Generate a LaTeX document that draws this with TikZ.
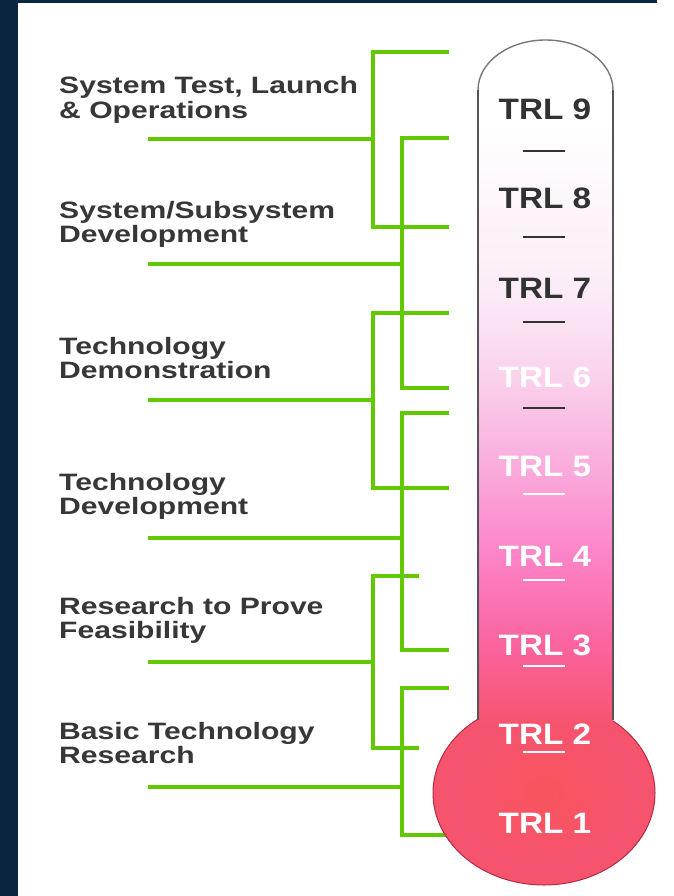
\documentclass[tikz,border=0pt]{standalone}
\usepackage{fontspec}
\setmainfont{Liberation Sans}
\newfontfamily\stagefont[FakeStretch=1.27]{Liberation Sans}
\newfontfamily\levelfont[FakeStretch=1.13]{Liberation Sans}
\usepackage{tikz}
\usetikzlibrary{positioning, shapes.geometric}

\definecolor{bgnavy}{RGB}{9,37,64}
\definecolor{stagegray}{RGB}{55,55,55}
\definecolor{levelgray}{RGB}{50,50,50}
\definecolor{bracketgreen}{RGB}{98,200,0}
\definecolor{tubeline}{RGB}{85,85,85}
\definecolor{domeline}{RGB}{120,120,120}
\definecolor{tubeA}{RGB}{251,236,247}
\definecolor{tubeB}{RGB}{250,210,236}
\definecolor{tubeC}{RGB}{250,172,221}
\definecolor{tubeD}{RGB}{252,132,200}
\definecolor{tubeE}{RGB}{250,100,160}
\definecolor{tubeF}{RGB}{246,84,110}
\definecolor{bulbcore}{RGB}{249,84,92}
\definecolor{bulbedge}{RGB}{246,84,110}
\definecolor{bulbline}{RGB}{180,45,65}

\pgfdeclareverticalshading{tubeshade}{100bp}{color(0bp)=(tubeF); color(25bp)=(tubeF);
  color(30.9bp)=(tubeE); color(37.3bp)=(tubeD); color(43.8bp)=(tubeC);
  color(50.4bp)=(tubeB); color(56.7bp)=(tubeA); color(69bp)=(white); color(100bp)=(white)}
\pgfdeclareradialshading{bulbshade}{\pgfpoint{0bp}{0bp}}{color(0bp)=(bulbcore);
  color(18bp)=(bulbedge); color(50bp)=(bulbedge)}

\begin{document}
\begin{tikzpicture}[x=1pt, y=-1pt,
    stage/.style={anchor=base west, inner sep=0pt, text=stagegray,
      font=\stagefont\bfseries\fontsize{23.7}{24.5}\selectfont},
    trl/.style={inner sep=0pt, text height=21pt, text depth=0pt,
      font=\levelfont\bfseries\fontsize{29.5}{30}\selectfont},
    bracket/.style={draw=bracketgreen, line width=4pt},
    node distance=67.9pt]
        \useasboundingbox (0,0) rectangle (673,896);
        \fill[white] (0,0) rectangle (673,896);
        \fill[bgnavy] (0,0) rectangle (18,896);
        \fill[bgnavy] (18,0) rectangle (657,3.3);

        % brackets: stub on the left, spine, two ends on the right
        \coordinate (stub1) at (148,139); \coordinate (top1) at (449,52);
        \coordinate (bot1) at (449,227); \coordinate (spine1) at (373,0);
        \coordinate (stub2) at (148,264); \coordinate (top2) at (449,138);
        \coordinate (bot2) at (449,388); \coordinate (spine2) at (402,0);
        \coordinate (stub3) at (148,400); \coordinate (top3) at (449,313);
        \coordinate (bot3) at (449,488); \coordinate (spine3) at (373,0);
        \coordinate (stub4) at (148,538); \coordinate (top4) at (449,413);
        \coordinate (bot4) at (449,650); \coordinate (spine4) at (402,0);
        \coordinate (stub5) at (148,662); \coordinate (top5) at (419,576);
        \coordinate (bot5) at (419,748); \coordinate (spine5) at (373,0);
        \coordinate (stub6) at (148,787); \coordinate (top6) at (449,688);
        \coordinate (bot6) at (452,835); \coordinate (spine6) at (402,0);

        \draw[bracket] (top1) -- (top1 -| spine1) -- (bot1 -| spine1) -- (bot1)
          (stub1) -- (stub1 -| spine1);
        \draw[bracket] (top2) -- (top2 -| spine2) -- (bot2 -| spine2) -- (bot2)
          (stub2) -- (stub2 -| spine2);
        \draw[bracket] (top3) -- (top3 -| spine3) -- (bot3 -| spine3) -- (bot3)
          (stub3) -- (stub3 -| spine3);
        \draw[bracket] (top4) -- (top4 -| spine4) -- (bot4 -| spine4) -- (bot4)
          (stub4) -- (stub4 -| spine4);
        \draw[bracket] (top5) -- (top5 -| spine5) -- (bot5 -| spine5) -- (bot5)
          (stub5) -- (stub5 -| spine5);
        \draw[bracket] (top6) -- (top6 -| spine6) -- (bot6 -| spine6) -- (bot6)
          (stub6) -- (stub6 -| spine6);

        % thermometer
        \node[ellipse, draw=bulbline, line width=1pt, shade, shading=bulbshade,
          minimum width=222pt, minimum height=184pt, inner sep=0pt]
        (bulb) at (544,793) {};
        \shade[shading=tubeshade] (478,722) -- (478,90)
          arc[start angle=180, end angle=360, x radius=67.5, y radius=50]
          -- (613,722) -- cycle;
        \draw[tubeline, line width=2pt] (478,90) -- (478,720) (613,90) -- (613,720);
        \draw[domeline, line width=1.4pt] (478,90)
          arc[start angle=180, end angle=360, x radius=67.5, y radius=50];

        \foreach \y/\c in {151/levelgray, 237/levelgray, 322/levelgray,
          408/levelgray, 494/white, 580/white, 666/white, 752/white}
          \draw[\c, line width=2pt] (523,\y) -- (565,\y);

        \node[trl, text=levelgray] (trl9) at (545,109) {TRL 9};
        \node[trl, text=levelgray, below=of trl9] (trl8) {TRL 8};
        \node[trl, text=levelgray, below=of trl8] (trl7) {TRL 7};
        \node[trl, text=white, below=of trl7] (trl6) {TRL 6};
        \node[trl, text=white, below=of trl6] (trl5) {TRL 5};
        \node[trl, text=white, below=of trl5] (trl4) {TRL 4};
        \node[trl, text=white, below=of trl4] (trl3) {TRL 3};
        \node[trl, text=white, below=of trl3] (trl2) {TRL 2};
        \node[trl, text=white, below=of trl2] (trl1) {TRL 1};

        \node[stage] (systest) at (59,94) {
          \begin{tabular}[t]{@{}l@{}}
            System Test, Launch \\
            \& Operations
          \end{tabular}
        } ;
        \node[stage] (sysdev) at (59,218) {
          \begin{tabular}[t]{@{}l@{}}
            System/Subsystem \\
            Development
          \end{tabular}
        } ;
        \node[stage] (techdemo) at (59,354) {
          \begin{tabular}[t]{@{}l@{}}
            Technology \\
            Demonstration
          \end{tabular}
        } ;
        \node[stage] (techdev) at (59,490) {
          \begin{tabular}[t]{@{}l@{}}
            Technology \\
            Development
          \end{tabular}
        } ;
        \node[stage] (proof) at (59,614) {
          \begin{tabular}[t]{@{}l@{}}
            Research to Prove \\
            Feasibility
          \end{tabular}
        } ;
        \node[stage] (basic) at (59,739) {
          \begin{tabular}[t]{@{}l@{}}
            Basic Technology \\
            Research
          \end{tabular}
        } ;
      \end{tikzpicture}
\end{document}
